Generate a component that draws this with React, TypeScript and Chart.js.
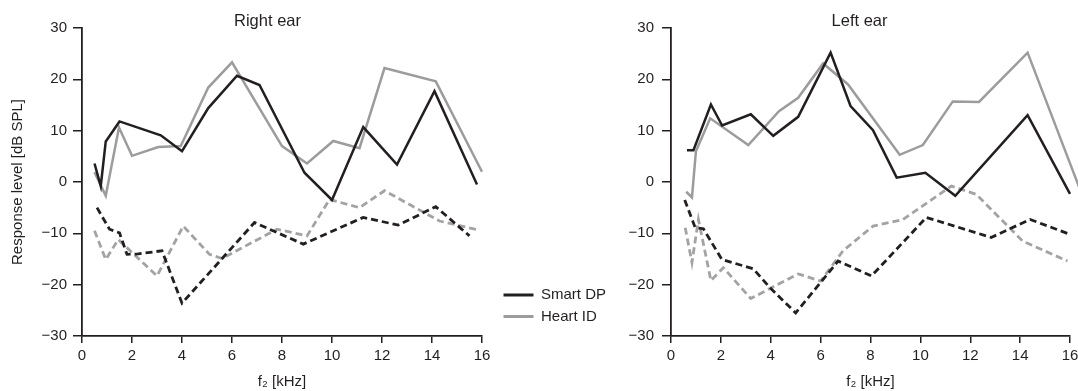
import React, { useEffect, useRef } from 'react';
import { Chart, registerables } from 'chart.js';

Chart.register(...registerables);

// ---- labels / ticks ----
const X_TICKS = [0, 2, 4, 6, 8, 10, 12, 14, 16];
const Y_TICKS = [-30, -20, -10, 0, 10, 20, 30];
const SERIES_LABELS = ['Smart DP', 'Heart ID'];
const PANEL_TITLES = ['Right ear', 'Left ear'];
const X_TITLE = 'f\u2082 [kHz]';
const Y_TITLE = 'Response level [dB SPL]';

// ---- Right ear ----
const R_SMART_F = [0.5, 0.75, 0.95, 1.5, 3.15, 4.0, 5.05, 6.2, 7.1, 8.9, 10.0, 11.25, 12.6, 14.1, 15.8];
const R_SMART_DB = [3.6, -0.8, 7.9, 11.8, 9.1, 6.0, 14.4, 20.7, 18.9, 1.8, -3.5, 10.7, 3.4, 17.7, -0.5];
const R_HEART_F = [0.5, 0.95, 1.48, 2.0, 3.05, 3.95, 5.05, 6.0, 8.0, 9.0, 10.05, 11.1, 12.1, 14.15, 16.0];
const R_HEART_DB = [1.9, -2.7, 10.6, 5.1, 6.8, 7.0, 18.4, 23.3, 7.0, 3.6, 8.0, 6.6, 22.2, 19.6, 2.0];
const R_SMART_NF_F = [0.6, 1.1, 1.5, 1.8, 2.25, 3.2, 4.0, 6.9, 8.85, 11.25, 12.65, 14.15, 15.5];
const R_SMART_NF_DB = [-5.0, -9.2, -9.9, -14.1, -14.0, -13.4, -23.6, -7.9, -12.1, -6.9, -8.4, -4.8, -10.5];
const R_HEART_NF_F = [0.5, 0.95, 1.45, 3.0, 4.05, 5.1, 5.6, 7.8, 9.0, 9.9, 11.1, 12.1, 14.3, 15.9];
const R_HEART_NF_DB = [-9.5, -15.1, -11.2, -18.3, -8.6, -14.1, -14.9, -9.2, -10.5, -3.4, -5.0, -1.7, -7.6, -9.4];

// ---- Left ear ----
const L_SMART_F = [0.64, 0.9, 1.6, 2.05, 3.2, 4.1, 5.1, 6.4, 7.2, 8.1, 9.05, 10.2, 11.4, 14.3, 16.0];
const L_SMART_DB = [6.2, 6.2, 15.1, 11.0, 13.2, 9.0, 12.7, 25.2, 14.8, 10.1, 0.85, 1.8, -2.7, 13.0, -2.3];
const L_HEART_F = [0.61, 0.84, 1.0, 1.57, 3.1, 4.33, 5.1, 6.1, 7.1, 9.17, 10.1, 11.3, 12.35, 14.3, 16.5];
const L_HEART_DB = [-1.9, -3.0, 6.0, 12.4, 7.2, 13.8, 16.4, 23.1, 19.0, 5.3, 7.2, 15.7, 15.6, 25.2, -2.7];
const L_SMART_NF_F = [0.55, 0.97, 1.3, 2.04, 3.3, 3.97, 5.0, 6.7, 8.04, 10.24, 12.84, 14.4, 16.0];
const L_SMART_NF_DB = [-3.5, -8.9, -9.1, -15.1, -16.9, -20.6, -25.5, -15.4, -18.3, -6.9, -10.8, -7.3, -10.2];
const L_HEART_NF_F = [0.57, 0.84, 1.1, 1.6, 2.1, 3.2, 5.1, 6.0, 6.9, 8.1, 9.3, 11.24, 12.24, 14.1, 15.9];
const L_HEART_NF_DB = [-8.9, -15.7, -7.3, -19.2, -16.7, -22.7, -17.9, -19.3, -13.4, -8.6, -7.3, -0.8, -2.4, -11.5, -15.4];

// ---- styles ----
const INK = '#231f20';
const GRAY = '#9c9c9c';
const GRAY_DASH = '#a3a3a3';
const SANS = '"Liberation Sans", Arial, sans-serif';

function pts(f: number[], v: number[]) {
  return f.map((x, i) => ({ x, y: v[i] }));
}

function series(label: string, f: number[], v: number[], color: string, dashed: boolean) {
  return {
    label,
    data: pts(f, v),
    xAxisID: 'x',
    yAxisID: 'y',
    borderColor: color,
    backgroundColor: color,
    borderWidth: dashed ? 2.8 : 2.5,
    borderDash: dashed ? [7, 4] : [],
    pointRadius: 0,
    pointHoverRadius: 0,
    tension: 0,
    fill: false,
    clip: false as any,
  };
}

const fmtY = (v: number) => (v < 0 ? '\u2212' + Math.abs(v) : String(v));

function panelConfig(
  title: string,
  datasets: any[],
  p: { yAxisWidth: number; padRight: number; showYTitle: boolean; yTickPad: number }
): any {
  return {
    type: 'line',
    data: { datasets },
    options: {
      responsive: false,
      animation: false,
      events: [],
      layout: { padding: 0 },
      plugins: {
        legend: { display: false },
        tooltip: { enabled: false },
        title: {
          display: true,
          text: title,
          color: INK,
          font: { family: SANS, size: 16.5, weight: 'normal' },
          padding: { top: 11.8, bottom: -3.6 },
        },
      },
      scales: {
        x: {
          type: 'linear',
          position: 'bottom',
          min: 0,
          max: 16,
          afterBuildTicks: (s: any) => {
            s.ticks = X_TICKS.map((value) => ({ value }));
          },
          afterFit: (s: any) => {
            s.height = 55;
          },
          ticks: {
            color: INK,
            font: { family: SANS, size: 15 },
            padding: 4,
            maxRotation: 0,
            autoSkip: false,
            callback: (v: number) => String(v),
          },
          grid: { display: true, drawOnChartArea: false, drawTicks: true, tickLength: 7, color: INK, lineWidth: 1.5 },
          border: { display: true, color: INK, width: 1.8 },
          title: {
            display: true,
            text: X_TITLE,
            color: INK,
            font: { family: SANS, size: 15 },
            padding: { top: 0, bottom: 0.5 },
          },
        },
        y: {
          type: 'linear',
          position: 'left',
          min: -30,
          max: 30,
          afterBuildTicks: (s: any) => {
            s.ticks = Y_TICKS.map((value) => ({ value }));
          },
          afterFit: (s: any) => {
            s.width = p.yAxisWidth;
          },
          ticks: {
            color: INK,
            font: { family: SANS, size: 15 },
            padding: p.yTickPad,
            autoSkip: false,
            callback: (v: number) => fmtY(v),
          },
          grid: { display: true, drawOnChartArea: false, drawTicks: true, tickLength: 9, color: INK, lineWidth: 1.5 },
          border: { display: true, color: INK, width: 1.8 },
          title: {
            display: p.showYTitle,
            text: Y_TITLE,
            color: INK,
            font: { family: SANS, size: 15 },
            padding: { top: 8.5, bottom: 0 },
          },
        },
        pad: {
          type: 'linear',
          position: 'right',
          display: true,
          ticks: { display: false },
          grid: { display: false },
          border: { display: false },
          afterFit: (s: any) => {
            s.width = p.padRight;
          },
        },
      },
    },
  };
}

function legendConfig(): any {
  return {
    type: 'line',
    data: {
      datasets: [
        { label: SERIES_LABELS[0], data: [], borderColor: INK, backgroundColor: INK },
        { label: SERIES_LABELS[1], data: [], borderColor: GRAY, backgroundColor: GRAY },
      ],
    },
    options: {
      responsive: false,
      animation: false,
      events: [],
      layout: { padding: 0 },
      scales: { x: { display: false }, y: { display: false } },
      plugins: {
        tooltip: { enabled: false },
        title: { display: false },
        legend: {
          display: true,
          position: 'left',
          align: 'start',
          labels: {
            boxWidth: 30,
            boxHeight: 3,
            padding: 6.5,
            color: INK,
            font: { family: SANS, size: 15 },
            generateLabels: (chart: any) =>
              chart.data.datasets.map((d: any, i: number) => ({
                text: d.label,
                fillStyle: d.borderColor,
                strokeStyle: d.borderColor,
                lineWidth: 0,
                hidden: false,
                datasetIndex: i,
                fontColor: INK,
              })),
          },
        },
      },
    },
  };
}

export default function App() {
  const leftRef = useRef<HTMLCanvasElement>(null);
  const rightRef = useRef<HTMLCanvasElement>(null);
  const legendRef = useRef<HTMLCanvasElement>(null);

  useEffect(() => {
    const rightEar = [
      series(SERIES_LABELS[0], R_SMART_F, R_SMART_DB, INK, false),
      series(SERIES_LABELS[1], R_HEART_F, R_HEART_DB, GRAY, false),
      series(SERIES_LABELS[0] + ' noise', R_SMART_NF_F, R_SMART_NF_DB, INK, true),
      series(SERIES_LABELS[1] + ' noise', R_HEART_NF_F, R_HEART_NF_DB, GRAY_DASH, true),
    ];
    const leftEar = [
      series(SERIES_LABELS[0], L_SMART_F, L_SMART_DB, INK, false),
      series(SERIES_LABELS[1], L_HEART_F, L_HEART_DB, GRAY, false),
      series(SERIES_LABELS[0] + ' noise', L_SMART_NF_F, L_SMART_NF_DB, INK, true),
      series(SERIES_LABELS[1] + ' noise', L_HEART_NF_F, L_HEART_NF_DB, GRAY_DASH, true),
    ];
    const charts = [
      new Chart(leftRef.current!, panelConfig(PANEL_TITLES[0], rightEar, { yAxisWidth: 82, padRight: 53, showYTitle: true, yTickPad: 6 })),
      new Chart(rightRef.current!, panelConfig(PANEL_TITLES[1], leftEar, { yAxisWidth: 71, padRight: 49, showYTitle: false, yTickPad: 8 })),
      new Chart(legendRef.current!, legendConfig()),
    ];
    return () => charts.forEach((c) => c.destroy());
  }, []);

  return (
    <div
      style={{
        position: 'fixed',
        left: 0,
        top: 0,
        width: 1078,
        height: 391,
        overflow: 'hidden',
        background: '#fff',
      }}
    >
      <canvas ref={leftRef} width={535} height={391} style={{ position: 'absolute', left: 0, top: 0, width: 535, height: 391 }} />
      <canvas ref={rightRef} width={519} height={391} style={{ position: 'absolute', left: 600, top: 0, width: 519, height: 391 }} />
      <canvas ref={legendRef} width={280} height={60} style={{ position: 'absolute', left: 496.5, top: 281, width: 280, height: 60 }} />
    </div>
  );
}
